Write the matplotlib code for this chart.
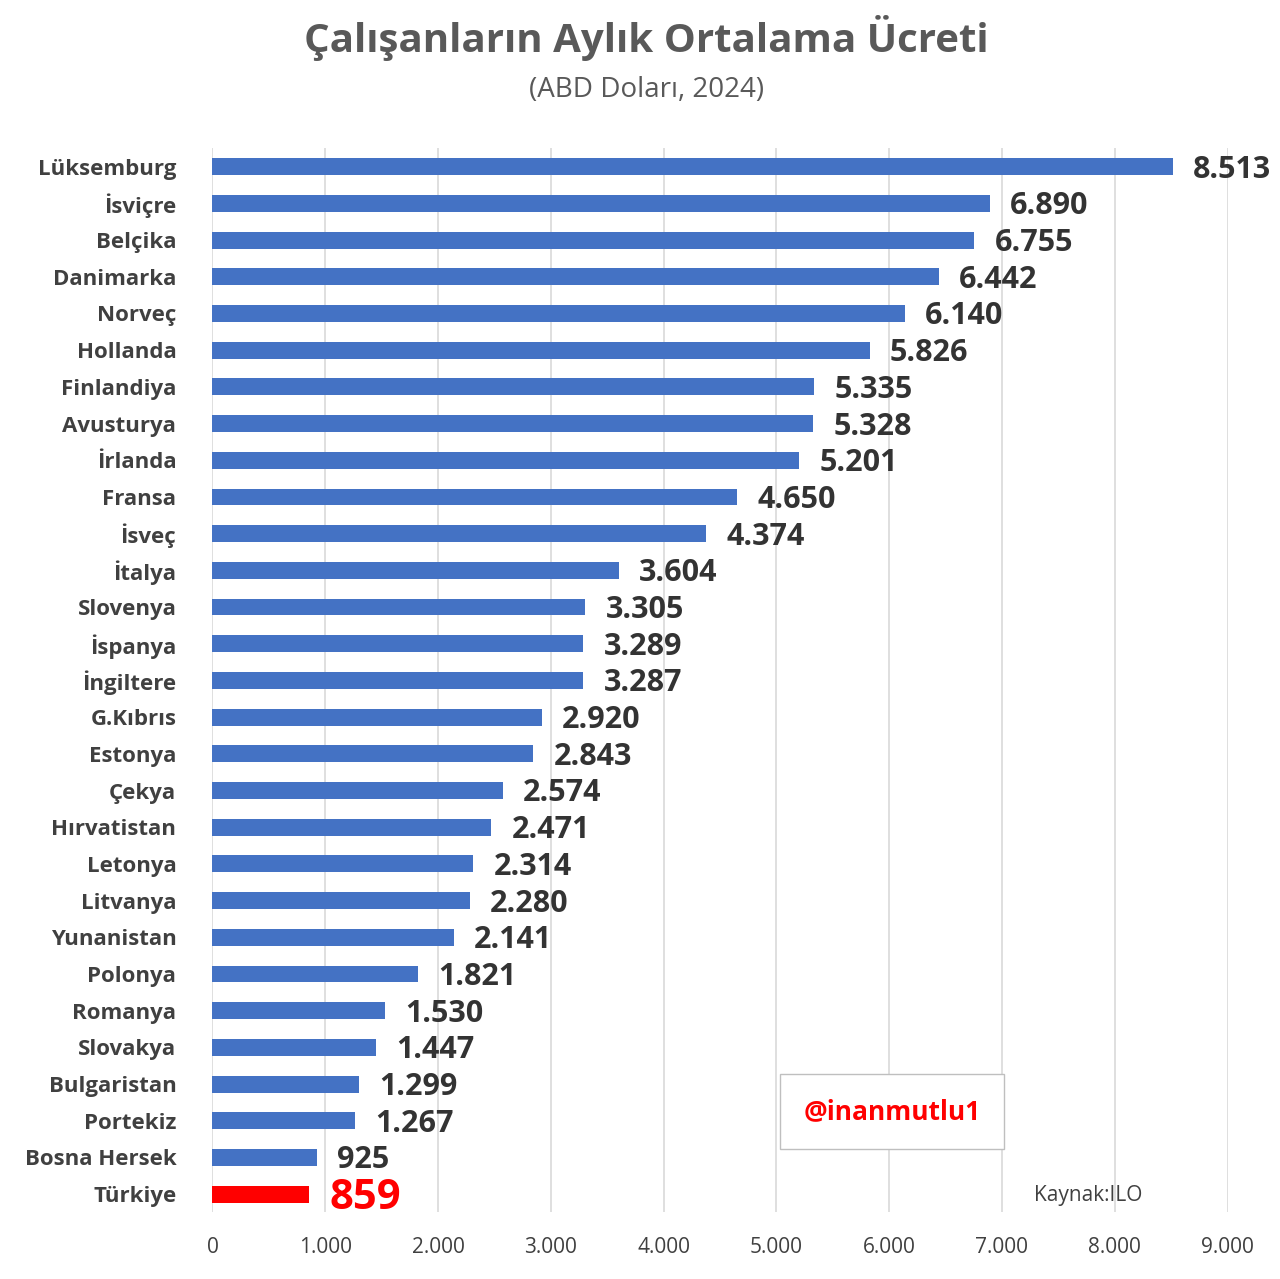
import matplotlib.pyplot as plt

countries = ["Lüksemburg", "İsviçre", "Belçika", "Danimarka", "Norveç", "Hollanda",
             "Finlandiya", "Avusturya", "İrlanda", "Fransa", "İsveç", "İtalya",
             "Slovenya", "İspanya", "İngiltere", "G.Kıbrıs", "Estonya", "Çekya",
             "Hırvatistan", "Letonya", "Litvanya", "Yunanistan", "Polonya", "Romanya",
             "Slovakya", "Bulgaristan", "Portekiz", "Bosna Hersek", "Türkiye"]
values = [8513, 6890, 6755, 6442, 6140, 5826, 5335, 5328, 5201, 4650, 4374, 3604,
          3305, 3289, 3287, 2920, 2843, 2574, 2471, 2314, 2280, 2141, 1821, 1530,
          1447, 1299, 1267, 925, 859]
xticks = list(range(0, 10000, 1000))
xtick_labels = ["0"] + [f"{v // 1000}.000" for v in xticks[1:]]

plt.rcParams['font.family'] = ['Open Sans', 'DejaVu Sans']

fig = plt.figure(figsize=(12.8, 12.79), dpi=100)
ax = fig.add_axes([0.166, 0.052, 0.793, 0.832])

n = len(countries)
ypos = list(range(n))
colors = ['#4472C4'] * (n - 1) + ['#FF0000']
ax.barh(ypos, values, height=0.46, color=colors, edgecolor='none', zorder=3)

for y, v, c in zip(ypos, values, countries):
    lab = f"{v:,}".replace(",", ".")
    if c == "Türkiye":
        ax.text(v + 180, y + 0.12, lab, va='center', ha='left', fontsize=30,
                fontweight='bold', color='#FF0000')
    else:
        ax.text(v + 180, y + 0.08, lab, va='center', ha='left', fontsize=22,
                fontweight='bold', color='#333333')

ax.set_ylim(n - 0.5, -0.5)
ax.set_xlim(0, 9000)
ax.set_yticks(ypos)
ax.set_yticklabels(countries, fontsize=16, fontweight='bold', color='#404040')
ax.set_xticks(xticks)
ax.set_xticklabels(xtick_labels, fontsize=15, color='#404040')
ax.tick_params(axis='y', length=0, pad=26)
ax.tick_params(axis='x', length=0, pad=18)
ax.grid(axis='x', color='#D9D9D9', linewidth=1.2, zorder=0)
for s in ax.spines.values():
    s.set_visible(False)

fig.text(0.505, 0.97, "Çalışanların Aylık Ortalama Ücreti", ha='center', va='center',
         fontsize=29, fontweight='bold', color='#595959')
fig.text(0.505, 0.93, "(ABD Doları, 2024)", ha='center', va='center',
         fontsize=20, color='#595959')

fig.text(0.697, 0.131, "@inanmutlu1", ha='center', va='center', fontsize=19,
         fontweight='bold', color='#FF0000',
         bbox=dict(boxstyle='square,pad=0.9', facecolor='white', edgecolor='#BFBFBF'))
fig.text(0.85, 0.065, "Kaynak:ILO", ha='center', va='center', fontsize=15, color='#404040')

fig.savefig("out.png", dpi=100, facecolor='white')
